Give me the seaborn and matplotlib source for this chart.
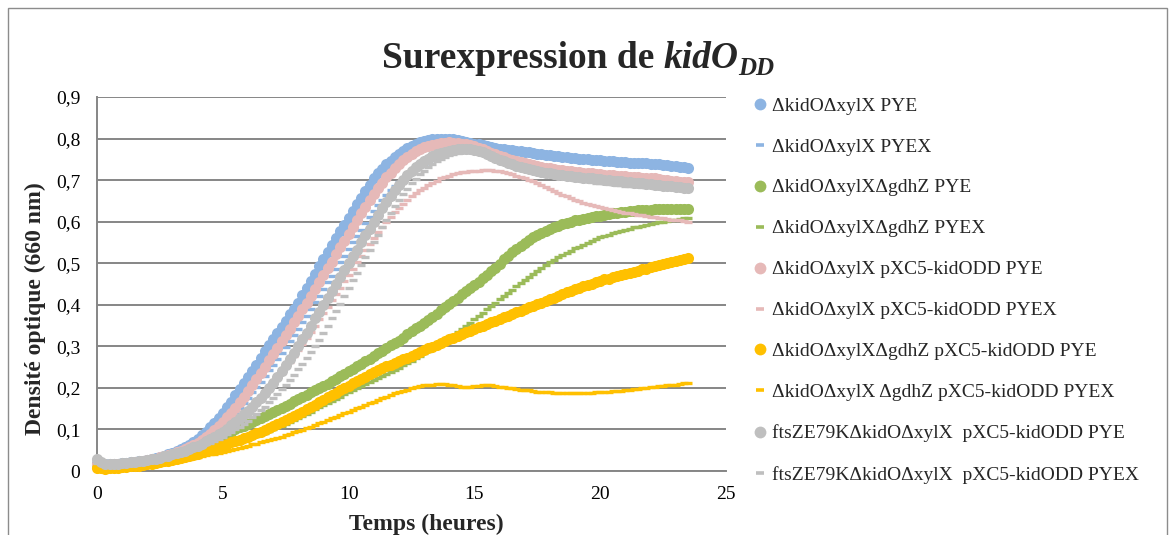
import matplotlib
matplotlib.use("Agg")
import matplotlib.pyplot as plt
from matplotlib.lines import Line2D
from matplotlib.patches import Rectangle
import seaborn as sns

# Sampling times (hours): one optical-density reading every 10 minutes, 0 to 23.5 h
temps = [k / 6 for k in range(142)]

# ΔkidOΔxylX PYE
od_a_pye = [
    0.020, 0.017, 0.016, 0.017, 0.018, 0.018,
    0.019, 0.020, 0.021, 0.022, 0.023, 0.025,
    0.027, 0.029, 0.031, 0.034, 0.037, 0.040,
    0.043, 0.047, 0.052, 0.057, 0.063, 0.070,
    0.077, 0.086, 0.095, 0.105, 0.116, 0.128,
    0.140, 0.153, 0.167, 0.182, 0.197, 0.211,
    0.226, 0.241, 0.256, 0.272, 0.288, 0.303,
    0.318, 0.333, 0.347, 0.362, 0.377, 0.391,
    0.405, 0.423, 0.441, 0.458, 0.475, 0.493,
    0.510, 0.527, 0.543, 0.560, 0.577, 0.593,
    0.610, 0.626, 0.642, 0.658, 0.674, 0.689,
    0.704, 0.716, 0.727, 0.738, 0.747, 0.756,
    0.764, 0.771, 0.777, 0.783, 0.788, 0.792,
    0.795, 0.797, 0.799, 0.800, 0.800, 0.800,
    0.799, 0.798, 0.796, 0.794, 0.792, 0.790,
    0.788, 0.786, 0.784, 0.782, 0.780, 0.778,
    0.776, 0.775, 0.773, 0.772, 0.771, 0.769,
    0.768, 0.767, 0.765, 0.764, 0.763, 0.761,
    0.760, 0.759, 0.757, 0.756, 0.755, 0.754,
    0.753, 0.752, 0.751, 0.750, 0.749, 0.749,
    0.748, 0.747, 0.746, 0.745, 0.744, 0.744,
    0.743, 0.742, 0.742, 0.741, 0.740, 0.740,
    0.739, 0.738, 0.738, 0.737, 0.736, 0.734,
    0.733, 0.732, 0.731, 0.730,
]
# ΔkidOΔxylX PYEX
od_a_pyex = [
    0.018, 0.016, 0.015, 0.015, 0.016, 0.016,
    0.017, 0.018, 0.019, 0.020, 0.021, 0.023,
    0.024, 0.026, 0.028, 0.030, 0.033, 0.035,
    0.038, 0.041, 0.045, 0.049, 0.054, 0.059,
    0.064, 0.070, 0.077, 0.084, 0.092, 0.101,
    0.110, 0.120, 0.130, 0.141, 0.152, 0.164,
    0.176, 0.189, 0.202, 0.215, 0.228, 0.242,
    0.256, 0.270, 0.284, 0.298, 0.313, 0.327,
    0.342, 0.358, 0.374, 0.390, 0.406, 0.422,
    0.438, 0.454, 0.470, 0.486, 0.502, 0.518,
    0.534, 0.550, 0.566, 0.581, 0.596, 0.611,
    0.626, 0.640, 0.653, 0.665, 0.676, 0.686,
    0.696, 0.705, 0.713, 0.720, 0.727, 0.733,
    0.739, 0.744, 0.749, 0.754, 0.758, 0.761,
    0.764, 0.766, 0.768, 0.769, 0.769, 0.768,
    0.767, 0.765, 0.763, 0.760, 0.757, 0.753,
    0.750, 0.747, 0.744, 0.741, 0.738, 0.736,
    0.734, 0.732, 0.730, 0.728, 0.727, 0.725,
    0.724, 0.723, 0.721, 0.720, 0.719, 0.718,
    0.717, 0.716, 0.716, 0.715, 0.714, 0.714,
    0.713, 0.712, 0.712, 0.711, 0.710, 0.710,
    0.709, 0.708, 0.708, 0.707, 0.706, 0.706,
    0.705, 0.704, 0.704, 0.703, 0.702, 0.702,
    0.701, 0.700, 0.700, 0.699,
]
# ΔkidOΔxylXΔgdhZ PYE
od_b_pye = [
    0.015, 0.014, 0.013, 0.013, 0.014, 0.014,
    0.015, 0.016, 0.017, 0.018, 0.019, 0.021,
    0.022, 0.024, 0.026, 0.028, 0.030, 0.032,
    0.035, 0.038, 0.040, 0.043, 0.046, 0.050,
    0.053, 0.057, 0.062, 0.067, 0.072, 0.077,
    0.086, 0.091, 0.095, 0.100, 0.105, 0.109,
    0.114, 0.119, 0.123, 0.128, 0.133, 0.137,
    0.142, 0.147, 0.152, 0.157, 0.162, 0.168,
    0.173, 0.178, 0.184, 0.189, 0.194, 0.200,
    0.205, 0.210, 0.216, 0.222, 0.228, 0.234,
    0.240, 0.246, 0.252, 0.258, 0.264, 0.270,
    0.276, 0.283, 0.289, 0.296, 0.303, 0.309,
    0.314, 0.321, 0.329, 0.336, 0.343, 0.350,
    0.356, 0.363, 0.371, 0.379, 0.387, 0.395,
    0.401, 0.409, 0.417, 0.425, 0.433, 0.441,
    0.447, 0.456, 0.464, 0.472, 0.481, 0.489,
    0.499, 0.509, 0.518, 0.527, 0.535, 0.542,
    0.549, 0.556, 0.562, 0.568, 0.573, 0.578,
    0.582, 0.586, 0.590, 0.594, 0.597, 0.600,
    0.603, 0.605, 0.607, 0.609, 0.611, 0.613,
    0.614, 0.616, 0.618, 0.620, 0.621, 0.623,
    0.624, 0.625, 0.626, 0.627, 0.628, 0.628,
    0.629, 0.630, 0.630, 0.630, 0.631, 0.631,
    0.631, 0.631, 0.631, 0.631,
]
# ΔkidOΔxylXΔgdhZ PYEX
od_b_pyex = [
    0.012, 0.011, 0.010, 0.010, 0.010, 0.010,
    0.010, 0.011, 0.012, 0.013, 0.014, 0.015,
    0.016, 0.017, 0.019, 0.020, 0.022, 0.024,
    0.026, 0.028, 0.030, 0.033, 0.035, 0.038,
    0.040, 0.043, 0.046, 0.048, 0.051, 0.054,
    0.057, 0.060, 0.064, 0.067, 0.070, 0.074,
    0.077, 0.081, 0.085, 0.089, 0.092, 0.096,
    0.100, 0.105, 0.109, 0.114, 0.119, 0.123,
    0.128, 0.133, 0.138, 0.143, 0.148, 0.153,
    0.158, 0.163, 0.169, 0.174, 0.179, 0.185,
    0.190, 0.195, 0.199, 0.204, 0.209, 0.213,
    0.218, 0.223, 0.228, 0.233, 0.238, 0.243,
    0.248, 0.254, 0.260, 0.265, 0.271, 0.277,
    0.283, 0.289, 0.295, 0.301, 0.308, 0.314,
    0.320, 0.327, 0.335, 0.342, 0.350, 0.357,
    0.365, 0.373, 0.381, 0.389, 0.397, 0.405,
    0.413, 0.421, 0.429, 0.436, 0.444, 0.452,
    0.460, 0.467, 0.474, 0.481, 0.488, 0.495,
    0.502, 0.508, 0.514, 0.519, 0.525, 0.530,
    0.536, 0.540, 0.545, 0.549, 0.554, 0.558,
    0.562, 0.565, 0.568, 0.572, 0.575, 0.578,
    0.581, 0.583, 0.586, 0.588, 0.590, 0.593,
    0.595, 0.597, 0.598, 0.600, 0.602, 0.603,
    0.605, 0.606, 0.608, 0.609,
]
# ΔkidOΔxylX pXC5-kidODD PYE
od_c_pye = [
    0.018, 0.016, 0.015, 0.015, 0.016, 0.016,
    0.017, 0.018, 0.020, 0.021, 0.022, 0.024,
    0.026, 0.028, 0.030, 0.033, 0.036, 0.039,
    0.042, 0.045, 0.049, 0.053, 0.058, 0.063,
    0.068, 0.075, 0.082, 0.090, 0.099, 0.108,
    0.118, 0.129, 0.140, 0.152, 0.165, 0.179,
    0.193, 0.207, 0.221, 0.236, 0.251, 0.266,
    0.281, 0.296, 0.312, 0.327, 0.342, 0.358,
    0.373, 0.389, 0.405, 0.421, 0.438, 0.454,
    0.471, 0.488, 0.504, 0.521, 0.538, 0.554,
    0.571, 0.588, 0.604, 0.620, 0.636, 0.652,
    0.667, 0.681, 0.694, 0.707, 0.718, 0.729,
    0.739, 0.748, 0.756, 0.763, 0.769, 0.774,
    0.779, 0.782, 0.785, 0.788, 0.789, 0.790,
    0.791, 0.790, 0.789, 0.788, 0.786, 0.784,
    0.781, 0.778, 0.774, 0.770, 0.766, 0.762,
    0.758, 0.755, 0.751, 0.748, 0.745, 0.743,
    0.740, 0.738, 0.736, 0.734, 0.732, 0.730,
    0.728, 0.727, 0.725, 0.724, 0.723, 0.721,
    0.720, 0.719, 0.718, 0.717, 0.716, 0.715,
    0.714, 0.713, 0.713, 0.712, 0.711, 0.710,
    0.709, 0.708, 0.708, 0.707, 0.706, 0.706,
    0.705, 0.704, 0.702, 0.701, 0.700, 0.698,
    0.697, 0.696, 0.696, 0.695,
]
# ΔkidOΔxylX pXC5-kidODD PYEX
od_c_pyex = [
    0.017, 0.015, 0.014, 0.014, 0.015, 0.015,
    0.016, 0.017, 0.018, 0.019, 0.020, 0.022,
    0.023, 0.025, 0.027, 0.029, 0.032, 0.035,
    0.037, 0.040, 0.043, 0.046, 0.050, 0.054,
    0.058, 0.063, 0.068, 0.073, 0.079, 0.085,
    0.092, 0.099, 0.107, 0.115, 0.124, 0.134,
    0.145, 0.156, 0.166, 0.177, 0.188, 0.200,
    0.212, 0.225, 0.237, 0.250, 0.263, 0.277,
    0.290, 0.305, 0.319, 0.334, 0.349, 0.365,
    0.380, 0.395, 0.411, 0.426, 0.441, 0.457,
    0.472, 0.487, 0.503, 0.518, 0.533, 0.547,
    0.561, 0.574, 0.587, 0.600, 0.612, 0.623,
    0.634, 0.643, 0.652, 0.661, 0.668, 0.675,
    0.682, 0.688, 0.694, 0.699, 0.704, 0.708,
    0.711, 0.714, 0.716, 0.719, 0.720, 0.721,
    0.722, 0.723, 0.724, 0.724, 0.724, 0.723,
    0.721, 0.719, 0.716, 0.714, 0.711, 0.708,
    0.705, 0.701, 0.697, 0.693, 0.688, 0.684,
    0.679, 0.674, 0.670, 0.665, 0.661, 0.657,
    0.653, 0.650, 0.646, 0.643, 0.640, 0.638,
    0.635, 0.632, 0.630, 0.628, 0.626, 0.624,
    0.622, 0.620, 0.618, 0.617, 0.615, 0.613,
    0.612, 0.611, 0.609, 0.608, 0.607, 0.605,
    0.604, 0.603, 0.601, 0.600,
]
# ΔkidOΔxylXΔgdhZ pXC5-kidODD PYE
od_d_pye = [
    0.008, 0.007, 0.006, 0.007, 0.007, 0.008,
    0.009, 0.010, 0.011, 0.012, 0.013, 0.015,
    0.016, 0.017, 0.019, 0.021, 0.023, 0.025,
    0.027, 0.029, 0.031, 0.034, 0.037, 0.039,
    0.042, 0.045, 0.049, 0.052, 0.055, 0.059,
    0.062, 0.065, 0.069, 0.072, 0.075, 0.079,
    0.083, 0.087, 0.091, 0.095, 0.099, 0.103,
    0.108, 0.113, 0.117, 0.122, 0.127, 0.133,
    0.138, 0.143, 0.149, 0.154, 0.159, 0.165,
    0.171, 0.177, 0.183, 0.188, 0.194, 0.200,
    0.205, 0.211, 0.217, 0.222, 0.227, 0.233,
    0.238, 0.243, 0.247, 0.252, 0.256, 0.260,
    0.265, 0.269, 0.273, 0.277, 0.282, 0.286,
    0.290, 0.295, 0.299, 0.304, 0.309, 0.313,
    0.317, 0.321, 0.325, 0.329, 0.334, 0.338,
    0.342, 0.346, 0.350, 0.354, 0.358, 0.362,
    0.366, 0.370, 0.374, 0.378, 0.382, 0.386,
    0.390, 0.394, 0.398, 0.402, 0.405, 0.409,
    0.413, 0.417, 0.421, 0.425, 0.430, 0.434,
    0.438, 0.441, 0.445, 0.448, 0.451, 0.455,
    0.458, 0.461, 0.463, 0.466, 0.469, 0.471,
    0.474, 0.477, 0.479, 0.482, 0.485, 0.487,
    0.490, 0.493, 0.495, 0.497, 0.500, 0.502,
    0.505, 0.508, 0.510, 0.513,
]
# ΔkidOΔxylX ΔgdhZ pXC5-kidODD PYEX
od_d_pyex = [
    0.006, 0.005, 0.004, 0.005, 0.005, 0.006,
    0.007, 0.008, 0.008, 0.009, 0.010, 0.012,
    0.013, 0.014, 0.016, 0.017, 0.018, 0.020,
    0.022, 0.024, 0.026, 0.028, 0.030, 0.032,
    0.034, 0.036, 0.038, 0.040, 0.042, 0.044,
    0.046, 0.048, 0.050, 0.053, 0.056, 0.058,
    0.061, 0.064, 0.066, 0.069, 0.072, 0.074,
    0.077, 0.080, 0.083, 0.086, 0.089, 0.093,
    0.096, 0.099, 0.103, 0.107, 0.111, 0.115,
    0.119, 0.123, 0.127, 0.131, 0.135, 0.139,
    0.143, 0.147, 0.151, 0.155, 0.159, 0.163,
    0.167, 0.171, 0.175, 0.179, 0.183, 0.187,
    0.190, 0.193, 0.196, 0.199, 0.202, 0.204,
    0.206, 0.207, 0.208, 0.209, 0.209, 0.209,
    0.208, 0.207, 0.204, 0.202, 0.202, 0.203,
    0.204, 0.205, 0.206, 0.206, 0.206, 0.205,
    0.203, 0.202, 0.200, 0.199, 0.198, 0.196,
    0.195, 0.194, 0.192, 0.191, 0.190, 0.190,
    0.189, 0.188, 0.188, 0.188, 0.187, 0.187,
    0.187, 0.187, 0.187, 0.188, 0.188, 0.189,
    0.190, 0.191, 0.191, 0.192, 0.193, 0.193,
    0.194, 0.195, 0.197, 0.198, 0.199, 0.200,
    0.201, 0.202, 0.204, 0.205, 0.206, 0.207,
    0.208, 0.209, 0.211, 0.212,
]
# ftsZE79KΔkidOΔxylX pXC5-kidODD PYE
od_e_pye = [
    0.028, 0.021, 0.018, 0.017, 0.017, 0.018,
    0.019, 0.020, 0.021, 0.022, 0.023, 0.025,
    0.026, 0.028, 0.030, 0.032, 0.035, 0.037,
    0.040, 0.043, 0.046, 0.049, 0.053, 0.057,
    0.061, 0.066, 0.071, 0.076, 0.082, 0.088,
    0.095, 0.102, 0.110, 0.118, 0.127, 0.136,
    0.145, 0.155, 0.165, 0.176, 0.187, 0.199,
    0.212, 0.226, 0.240, 0.255, 0.270, 0.285,
    0.300, 0.317, 0.333, 0.350, 0.367, 0.383,
    0.400, 0.417, 0.433, 0.450, 0.467, 0.483,
    0.500, 0.517, 0.533, 0.550, 0.567, 0.583,
    0.600, 0.616, 0.632, 0.647, 0.662, 0.676,
    0.689, 0.701, 0.712, 0.722, 0.731, 0.739,
    0.746, 0.752, 0.757, 0.762, 0.765, 0.768,
    0.770, 0.772, 0.774, 0.775, 0.775, 0.774,
    0.773, 0.770, 0.767, 0.763, 0.758, 0.754,
    0.749, 0.745, 0.741, 0.738, 0.735, 0.732,
    0.729, 0.726, 0.724, 0.722, 0.720, 0.718,
    0.716, 0.715, 0.713, 0.712, 0.711, 0.709,
    0.708, 0.707, 0.706, 0.705, 0.704, 0.703,
    0.702, 0.701, 0.700, 0.699, 0.698, 0.697,
    0.696, 0.695, 0.694, 0.693, 0.692, 0.691,
    0.690, 0.689, 0.688, 0.687, 0.686, 0.685,
    0.684, 0.683, 0.682, 0.681,
]
# ftsZE79KΔkidOΔxylX pXC5-kidODD PYEX
od_e_pyex = [
    0.020, 0.017, 0.016, 0.016, 0.017, 0.017,
    0.018, 0.019, 0.020, 0.021, 0.022, 0.024,
    0.025, 0.027, 0.029, 0.031, 0.033, 0.035,
    0.038, 0.041, 0.043, 0.046, 0.049, 0.053,
    0.056, 0.060, 0.064, 0.068, 0.073, 0.078,
    0.083, 0.088, 0.094, 0.100, 0.107, 0.114,
    0.121, 0.129, 0.137, 0.146, 0.155, 0.165,
    0.175, 0.186, 0.197, 0.208, 0.220, 0.232,
    0.245, 0.258, 0.272, 0.286, 0.301, 0.316,
    0.331, 0.349, 0.367, 0.385, 0.403, 0.421,
    0.440, 0.459, 0.477, 0.496, 0.515, 0.533,
    0.551, 0.569, 0.587, 0.604, 0.621, 0.637,
    0.652, 0.666, 0.679, 0.692, 0.703, 0.714,
    0.723, 0.731, 0.738, 0.745, 0.750, 0.755,
    0.760, 0.763, 0.766, 0.769, 0.770, 0.771,
    0.772, 0.771, 0.770, 0.768, 0.765, 0.761,
    0.756, 0.751, 0.747, 0.742, 0.738, 0.734,
    0.730, 0.727, 0.723, 0.720, 0.717, 0.715,
    0.712, 0.710, 0.708, 0.706, 0.704, 0.702,
    0.701, 0.700, 0.698, 0.697, 0.696, 0.694,
    0.693, 0.692, 0.691, 0.690, 0.689, 0.688,
    0.687, 0.686, 0.686, 0.685, 0.684, 0.684,
    0.683, 0.682, 0.682, 0.681, 0.680, 0.680,
    0.679, 0.678, 0.678, 0.677,
]

series_labels = [
    "ΔkidOΔxylX PYE",
    "ΔkidOΔxylX PYEX",
    "ΔkidOΔxylXΔgdhZ PYE",
    "ΔkidOΔxylXΔgdhZ PYEX",
    "ΔkidOΔxylX pXC5-kidODD PYE",
    "ΔkidOΔxylX pXC5-kidODD PYEX",
    "ΔkidOΔxylXΔgdhZ pXC5-kidODD PYE",
    "ΔkidOΔxylX ΔgdhZ pXC5-kidODD PYEX",
    "ftsZE79KΔkidOΔxylX  pXC5-kidODD PYE",
    "ftsZE79KΔkidOΔxylX  pXC5-kidODD PYEX",
]
series_values = [od_a_pye, od_a_pyex, od_b_pye, od_b_pyex, od_c_pye,
                 od_c_pyex, od_d_pye, od_d_pyex, od_e_pye, od_e_pyex]
series_colors = ["#8DB4E2", "#8DB4E2", "#9BBB59", "#9BBB59", "#E6B9B8",
                 "#E6B9B8", "#FFC000", "#FFC000", "#BFBFBF", "#BFBFBF"]
x_ticks = [0, 5, 10, 15, 20, 25]
y_ticks = [0, 0.1, 0.2, 0.3, 0.4, 0.5, 0.6, 0.7, 0.8, 0.9]
y_tick_labels = ["0", "0,1", "0,2", "0,3", "0,4", "0,5", "0,6", "0,7", "0,8", "0,9"]

sns.set_style("white")
plt.rcParams["font.family"] = ["Liberation Serif", "DejaVu Serif"]

W, H = 1173, 535
fig = plt.figure(figsize=(W / 100, H / 100), dpi=100)
ax = fig.add_axes([97 / W, 1 - 471 / H, (726 - 97) / W, (471 - 97) / H])

GRID = "#868686"
handles = []
for i, (lab, vals, col) in enumerate(zip(series_labels, series_values, series_colors)):
    if i % 2 == 0:
        style = dict(marker="o", markersize=8.0, markeredgewidth=0,
                     markeredgecolor=col)
        leg_style = dict(marker="o", markersize=8.5, markeredgewidth=0,
                         markeredgecolor=col)
    else:
        style = dict(marker="_", markersize=5.4, markeredgewidth=2.4,
                     markeredgecolor=col)
        leg_style = dict(marker="_", markersize=6.0, markeredgewidth=2.6,
                         markeredgecolor=col)
    sns.lineplot(x=temps, y=vals, ax=ax, color=col, linestyle="",
                 clip_on=False, zorder=3 + i, **style)
    handles.append(Line2D([], [], color=col, linestyle="", **leg_style))

ax.set_xlim(0, 25)
ax.set_ylim(0, 0.9)
ax.set_xticks(x_ticks)
ax.set_xticklabels([str(t) for t in x_ticks])
ax.set_yticks(y_ticks)
ax.set_yticklabels(y_tick_labels)
ax.yaxis.grid(True, color=GRID, linewidth=1.4)
ax.xaxis.grid(False)
ax.set_axisbelow(True)
for side in ("top", "right"):
    ax.spines[side].set_visible(False)
for side in ("left", "bottom"):
    ax.spines[side].set_color(GRID)
    ax.spines[side].set_linewidth(1.4)
ax.tick_params(axis="both", direction="out", length=5, width=1.4, color=GRID,
               labelsize=14, labelcolor="black")
ax.tick_params(axis="y", pad=7)
ax.tick_params(axis="x", pad=6)
ax.set_xlabel("")
ax.set_ylabel("")

# axis titles
fig.text(426 / W, 1 - 524 / H, "Temps (heures)", ha="center", va="center",
         fontsize=17, fontweight="bold")
fig.text(35 / W, 1 - 309 / H, "Densité optique (660 nm)", ha="center", va="center",
         rotation=90, fontsize=17, fontweight="bold")

# chart title with italic gene name and subscript
fig.canvas.draw()
renderer = fig.canvas.get_renderer()
base_y = 1 - 68 / H
sub_y = 1 - 75 / H
t1 = fig.text(0, base_y, "Surexpression de", fontsize=27, fontweight="bold",
              va="baseline", ha="left")
t2 = fig.text(0, base_y, "kidO", fontsize=27, fontweight="bold", style="italic",
              va="baseline", ha="left")
t3 = fig.text(0, sub_y, "DD", fontsize=18, fontweight="bold", style="italic",
              va="baseline", ha="left")
w1 = t1.get_window_extent(renderer).width
w2 = t2.get_window_extent(renderer).width
w3 = t3.get_window_extent(renderer).width
space = 0.25 * 27 * 100 / 72
total = w1 + space + w2 + w3
x0 = 578 - total / 2
t1.set_x(x0 / W)
t2.set_x((x0 + w1 + space) / W)
t3.set_x((x0 + w1 + space + w2) / W)

fig.legend(handles, series_labels, loc="upper left",
           bbox_to_anchor=(754 / W, 1 - 97 / H), frameon=False, fontsize=14,
           handlelength=0.65, handletextpad=0.3, labelspacing=1.2,
           borderaxespad=0, borderpad=0)

# outer chart-area border
fig.patches.append(Rectangle((8 / W, -0.05), (1167 - 8) / W, 1 - 8 / H + 0.05,
                             transform=fig.transFigure, fill=False,
                             edgecolor="#8C8C8C", linewidth=1.0))

fig.savefig("out.png", dpi=100)
